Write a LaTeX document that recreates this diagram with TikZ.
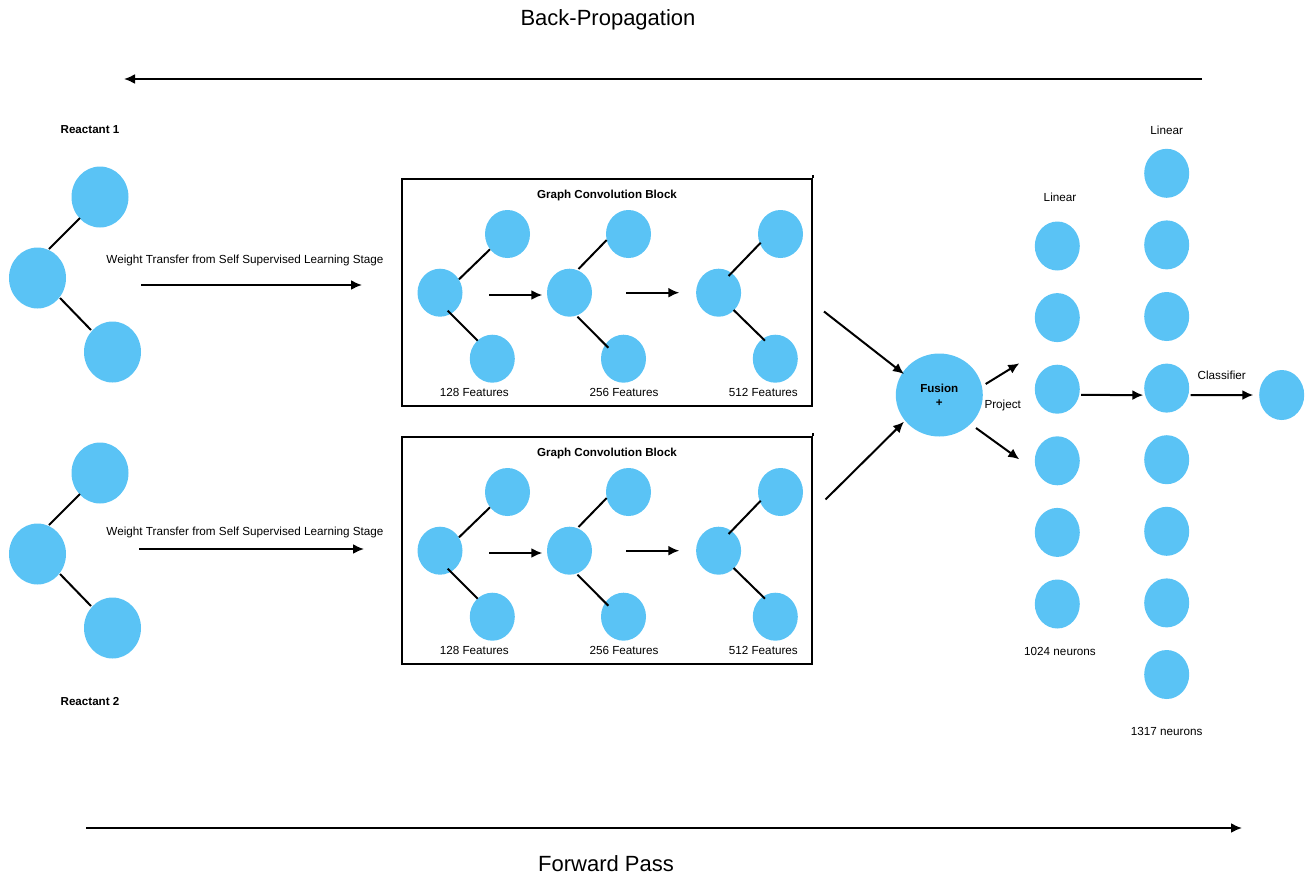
\documentclass[tikz,border=0pt]{standalone}
\usepackage{fontspec}
\setmainfont{Liberation Sans}
\usetikzlibrary{shapes.geometric,arrows.meta,calc}
\definecolor{nodeblue}{RGB}{90,195,245}
\begin{document}
\begin{tikzpicture}[x=1pt,y=-1pt,
  atom/.style={ellipse, fill=nodeblue, draw=none, inner sep=0pt},
  bigatom/.style={atom, minimum width=57pt, minimum height=61pt},
  gatom/.style={atom, minimum width=45pt, minimum height=48pt},
  neuron/.style={atom, minimum width=45pt, minimum height=49pt},
  fusionnode/.style={atom, minimum width=87pt, minimum height=83pt},
  edge/.style={line width=2pt},
  arr/.style={line width=2pt, -{Latex[length=11pt,width=10pt]}},
  lbl/.style={font=\fontsize{11.7}{14}\selectfont, inner sep=0pt},
  blbl/.style={font=\bfseries\fontsize{11.6}{14}\selectfont, inner sep=0pt},
  bigtxt/.style={font=\fontsize{22}{26}\selectfont, inner sep=0pt},
  gbox/.style={draw, line width=2pt, rectangle, minimum width=410pt, minimum height=227pt, inner sep=0pt}]
\useasboundingbox (0,0) rectangle (1310,876);

% top / bottom
\node[bigtxt] (bp) at (608,19.5) {Back-Propagation};
\coordinate (bpS) at (1202,79);
\coordinate (bpE) at (124,79);
\draw[arr] (bpS) -- (bpE);
\node[bigtxt] (fp) at (606,863.5) {Forward Pass};
\coordinate (fpS) at (86,828);
\coordinate (fpE) at (1242,828);
\draw[arr] (fpS) -- (fpE);

% reactants
\node[blbl] (r1lbl) at (90,130) {Reactant 1};
\node[blbl] (r2lbl) at (90,701) {Reactant 2};
\foreach \k/\dy in {a/0,b/276}{
  \node[bigatom] (rm\k) at (37.5,278+\dy) {};
  \node[bigatom] (rt\k) at (100,197+\dy) {};
  \node[bigatom] (rb\k) at (112.5,352+\dy) {};
  \draw[edge] ($(rm\k)+(11.5,-29)$) -- ($(rt\k)+(-20,21)$);
  \draw[edge] ($(rm\k)+(22.5,20)$) -- ($(rb\k)+(-21.5,-22)$);
}
\node[lbl] (wt1) at (245,260) {Weight Transfer from Self Supervised Learning Stage};
\node[lbl] (wt2) at (245,532) {Weight Transfer from Self Supervised Learning Stage};
\coordinate (wt1s) at (141,285);
\coordinate (wt1e) at (362,285);
\coordinate (wt2s) at (139,549);
\coordinate (wt2e) at (364,549);
\draw[arr] (wt1s) -- (wt1e);
\draw[arr] (wt2s) -- (wt2e);

% graph convolution blocks
\foreach \k/\dy in {a/0,b/258}{
  \node[gbox] (box\k) at (607,292.5+\dy) {};
  \draw[line width=2pt] (box\k.north east) -- ++(0,-3);
  \node[blbl] (title\k) at (607,195+\dy) {Graph Convolution Block};
  % graph 1
  \node[gatom] (g1m\k) at (440,292.7+\dy) {};
  \node[gatom] (g1t\k) at (507.5,234+\dy) {};
  \node[gatom] (g1b\k) at (492.3,358.7+\dy) {};
  \draw[edge] ($(g1m\k)+(19,-13.4)$) -- ($(g1t\k)+(-17.5,15.3)$);
  \draw[edge] ($(g1m\k)+(7.7,18)$) -- ($(g1b\k)+(-14.6,-18)$);
  % graph 2
  \node[gatom] (g2m\k) at (569.5,292.7+\dy) {};
  \node[gatom] (g2t\k) at (628.5,234+\dy) {};
  \node[gatom] (g2b\k) at (623.5,358.7+\dy) {};
  \draw[edge] ($(g2m\k)+(9,-23.7)$) -- ($(g2t\k)+(-21.8,6)$);
  \draw[edge] ($(g2m\k)+(8,24)$) -- ($(g2b\k)+(-15.2,-11)$);
  % graph 3
  \node[gatom] (g3m\k) at (718.6,292.7+\dy) {};
  \node[gatom] (g3t\k) at (780.5,234+\dy) {};
  \node[gatom] (g3b\k) at (775.3,358.7+\dy) {};
  \draw[edge] ($(g3m\k)+(10,-16.7)$) -- ($(g3t\k)+(-19.8,8.7)$);
  \draw[edge] ($(g3m\k)+(15,17.3)$) -- ($(g3b\k)+(-10.3,-18)$);
  % arrows
  \draw[arr] ($(g1m\k)+(49.3,2.3)$) -- ($(g2m\k)+(-27.2,2.3)$);
  \draw[arr] ($(g2m\k)+(56.5,0)$) -- ($(g3m\k)+(-39.3,0)$);
  % labels
  \node[lbl] (f1\k) at (474.3,392.7+\dy) {128 Features};
  \node[lbl] (f2\k) at (624,392.7+\dy) {256 Features};
  \node[lbl] (f3\k) at (763.3,392.7+\dy) {512 Features};
}

% fusion
\node[fusionnode] (fusion) at (939.3,395) {};
\node[blbl, align=center, font=\bfseries\fontsize{11.6}{13.5}\selectfont] (fusiontxt) at (939.3,395.5) {Fusion\\+};
\coordinate (b1out) at (824,311.5);
\coordinate (b2out) at (825.5,499.5);
\draw[arr] (b1out) -- ($(fusion)+(-35.3,-21)$);
\draw[arr] (b2out) -- ($(fusion)+(-35.3,26.7)$);
\coordinate (p1) at (1019.3,363.3);
\coordinate (p2) at (1019.3,459.3);
\draw[arr] ($(fusion)+(46.4,-11)$) -- (p1);
\draw[arr] ($(fusion)+(36.7,33)$) -- (p2);
\node[lbl] (proj) at (1002.7,405.3) {Project};

% linear layer 1
\node[lbl] (lin1) at (1060,197.3) {Linear};
\foreach \i in {1,...,6}{
  \node[neuron] (a\i) at (1057.3,174.4+71.6*\i) {};
}
\node[lbl] (n1024) at (1060,651) {1024 neurons};

% linear layer 2
\node[lbl] (lin2) at (1166.7,130.7) {Linear};
\foreach \i in {1,...,8}{
  \node[neuron] (b\i) at (1166.7,101.7+71.6*\i) {};
}
\node[lbl] (n1317) at (1166.7,731) {1317 neurons};

% output
\node[atom, minimum width=45pt, minimum height=50pt] (out) at (1281.7,395) {};
\draw[arr] ($(a3)+(23.7,5.7)$) -- ($(b4)+(-23.4,7)$);
\draw[arr] ($(b4)+(24,7)$) -- ($(out)+(-28.4,0)$);
\node[lbl] (cls) at (1221.7,375) {Classifier};
\end{tikzpicture}
\end{document}
